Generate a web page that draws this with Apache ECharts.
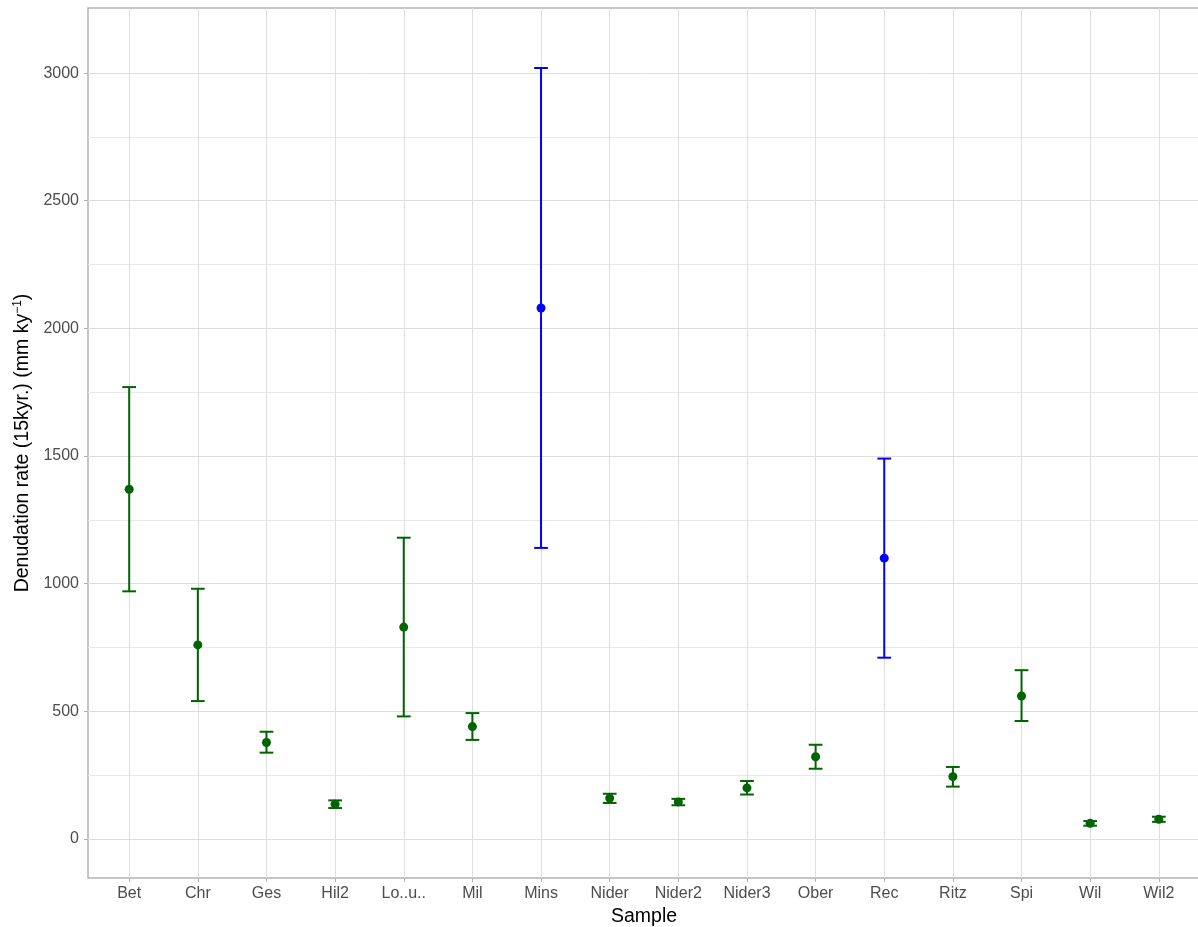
<!DOCTYPE html>
<html>
<head>
<meta charset="utf-8">
<script src="https://cdn.jsdelivr.net/npm/echarts@6/dist/echarts.min.js"></script>
<style>
html,body{margin:0;padding:0;background:#fff;}
#chart{width:1198px;height:927px;}
</style>
</head>
<body>
<div id="chart"></div>
<script>
// ---- data ----
const samples = ['Bet','Chr','Ges','Hil2','Lo..u..','Mil','Mins','Nider','Nider2','Nider3','Ober','Rec','Ritz','Spi','Wil','Wil2'];
const rate  = [1370, 760, 378, 136, 830, 440, 2080, 160, 145, 200, 322, 1100, 244, 560, 61, 77];
const lower = [ 970, 540, 338, 121, 480, 388, 1140, 141, 132, 174, 275,  710, 205, 462, 52, 67];
const upper = [1770, 980, 420, 151, 1180, 493, 3020, 177, 157, 227, 369, 1490, 282, 661, 70, 87];
const group = [0,0,0,0,0,0,1,0,0,0,0,1,0,0,0,0];
const yMajor = [0, 500, 1000, 1500, 2000, 2500, 3000];
const yMinor = [250, 750, 1250, 1750, 2250, 2750];

// ---- styles ----
const groupColors = ['#006400', '#0000ff'];
const font = '"Liberation Sans", Arial, Helvetica, sans-serif';
const xPos = samples.map((s, i) => i + 1);

const chart = echarts.init(document.getElementById('chart'), null, {renderer: 'canvas'});

const option = {
  animation: false,
  backgroundColor: '#ffffff',
  grid: {
    left: 88, top: 8, width: 1112, height: 870,
    outerBoundsMode: 'none', containLabel: false,
    show: true, borderColor: '#b3b3b3', borderWidth: 1.5, backgroundColor: 'transparent'
  },
  xAxis: {
    type: 'value', min: 0.4, max: 16.6,
    name: 'Sample', nameLocation: 'middle', nameGap: 26,
    nameTextStyle: {fontFamily: font, fontSize: 19.5, color: '#000'},
    axisLine: {show: false, onZero: false},
    axisTick: {show: true, length: 4, customValues: xPos, lineStyle: {color: '#b3b3b3', width: 1}},
    axisLabel: {
      customValues: xPos, margin: 8, fontFamily: font, fontSize: 16, color: '#4d4d4d',
      formatter: v => samples[Math.round(v) - 1] || ''
    },
    splitLine: {show: true, lineStyle: {color: '#dedede', width: 1}}
  },
  yAxis: [{
    type: 'value', min: -153, max: 3255,
    name: 'Denudation rate (15kyr.) (mm ky{sup|\u22121})',
    nameLocation: 'middle', nameRotate: 90, nameGap: 54,
    nameTextStyle: {fontFamily: font, fontSize: 19.5, color: '#000',
      rich: {sup: {fontFamily: font, fontSize: 12, color: '#000', padding: [0, 0, 10, 0]}}},
    axisLine: {show: false, onZero: false},
    axisTick: {show: true, inside: false, length: 4, customValues: yMajor, lineStyle: {color: '#b3b3b3', width: 1}},
    axisLabel: {customValues: yMajor, margin: 9, fontFamily: font, fontSize: 16, color: '#4d4d4d',
      formatter: v => String(v)},
    splitLine: {show: true, lineStyle: {color: '#dedede', width: 1}}
  }, {
    type: 'value', min: -153, max: 3255, position: 'left',
    axisLine: {show: false, onZero: false},
    axisTick: {show: false, customValues: yMinor},
    axisLabel: {show: false, customValues: yMinor},
    splitLine: {show: true, lineStyle: {color: '#e8e8e8', width: 1}}
  }],
  series: [{
    type: 'custom',
    z: 3,
    data: samples.map((s, i) => [xPos[i], lower[i], upper[i], group[i]]),
    renderItem: function (params, api) {
      const x = api.value(0), lo = api.value(1), hi = api.value(2);
      const color = groupColors[api.value(3)];
      const pLo = api.coord([x, lo]);
      const pHi = api.coord([x, hi]);
      const hw = api.size([0.1, 0])[0];
      const style = {stroke: color, lineWidth: 2, fill: null};
      return {
        type: 'group',
        children: [
          {type: 'line', shape: {x1: pLo[0], y1: pLo[1], x2: pHi[0], y2: pHi[1]}, style: style},
          {type: 'line', shape: {x1: pLo[0] - hw, y1: pLo[1], x2: pLo[0] + hw, y2: pLo[1]}, style: style},
          {type: 'line', shape: {x1: pHi[0] - hw, y1: pHi[1], x2: pHi[0] + hw, y2: pHi[1]}, style: style}
        ]
      };
    }
  }, {
    type: 'scatter',
    z: 4,
    symbol: 'circle',
    symbolSize: 9,
    itemStyle: {opacity: 1},
    data: samples.map((s, i) => ({value: [xPos[i], rate[i]], itemStyle: {color: groupColors[group[i]], opacity: 1}}))
  }]
};
chart.setOption(option);
</script>
</body>
</html>
